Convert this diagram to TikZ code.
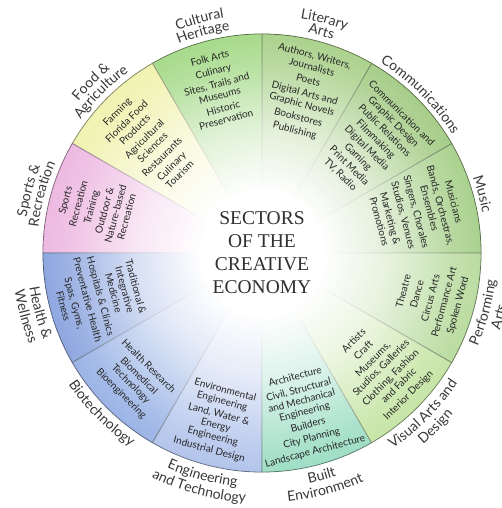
\documentclass[tikz,border=0pt]{standalone}
\usepackage{fontspec}
\newfontfamily\lato{Lato}
\newfontfamily\tms{Liberation Serif}
\usetikzlibrary{decorations.text,fadings}

\definecolor{cMusic}{HTML}{8FC36A}
\definecolor{cComm}{HTML}{8ABD62}
\definecolor{cLit}{HTML}{91C469}
\definecolor{cCult}{HTML}{8BCF66}
\definecolor{cFood}{HTML}{ECEF98}
\definecolor{cSport}{HTML}{E8A3D8}
\definecolor{cHealth}{HTML}{6A8BD6}
\definecolor{cBio}{HTML}{7B9CDE}
\definecolor{cEng}{HTML}{9BB2E6}
\definecolor{cBuilt}{HTML}{80D4B4}
\definecolor{cVis}{HTML}{B5DD8A}
\definecolor{cPerf}{HTML}{A4D182}
\definecolor{labcol}{HTML}{383838}
\definecolor{itemcol}{HTML}{262626}
\definecolor{titlecol}{HTML}{303030}

\pgfdeclareradialshading{cshade}{\pgfpointorigin}{color(0bp)=(pgftransparent!0); color(7bp)=(pgftransparent!0); color(14bp)=(pgftransparent!25); color(22bp)=(pgftransparent!65); color(32bp)=(pgftransparent!100); color(50bp)=(pgftransparent!100)}
\pgfdeclarefading{cfade}{\pgfuseshading{cshade}}

\newcommand\itemfont{\lato\fontsize{10}{11.5}\selectfont}
\newcommand\labfont{\lato\fontsize{14}{14}\selectfont\color{labcol}}
\newcommand\TopLab[3]{\path[lab={#3}] ({#1+40}:#2) arc[start angle={#1+40}, end angle={#1-40}, radius=#2];}
\newcommand\BotLab[3]{\path[lab={#3}] ({#1-40}:#2) arc[start angle={#1-40}, end angle={#1+40}, radius=#2];}

\tikzset{
  itm/.style={align=center, font=\itemfont, text=itemcol, inner sep=0pt},
  lab/.style={decorate, decoration={text along path, text align=center, text={|\labfont|#1}}},
  wedge/.style={fill=#1, draw=#1!50!black, line width=0.8pt}
}

\begin{document}
\begin{tikzpicture}
\useasboundingbox (-262pt,-255pt) rectangle (239pt,253pt);

% sectors
\foreach \a/\c in {0/cMusic,30/cComm,60/cLit,90/cCult,120/cFood,150/cSport,180/cHealth,210/cBio,240/cEng,270/cBuilt,300/cVis,330/cPerf}
  \filldraw[wedge=\c] (0,0) -- (\a:219pt) arc[start angle=\a, end angle=\a+30, radius=219pt] -- cycle;

% white centre glow
\fill[white, path fading=cfade] (0,0) circle[radius=219pt];

% centre title
\node[font=\tms\fontsize{19.5}{23}\selectfont, align=center, text=titlecol] (title) at (0pt,0.5pt) {SECTORS\\OF THE\\CREATIVE\\ECONOMY};

% sector contents
\node[itm, rotate=15] (tcult) at (105:170pt) {Folk Arts\\[2pt]Culinary\\[2pt]Sites, Trails and\\Museums\\[2pt]Historic\\Preservation};
\node[itm, rotate=-15] (tlit) at (75:165pt) {Authors, Writers,\\Journalists\\[2pt]Poets\\[2pt]Digital Arts and\\Graphic Novels\\[2pt]Bookstores\\[2pt]Publishing};
\node[itm, rotate=-45] (tcomm) at (45:154pt) {Communication and\\Graphic Design\\[1pt]Public Relations\\[1pt]Filmmaking\\[1pt]Digital Media\\[1pt]Gaming\\[1pt]Print Media\\[1pt]TV, Radio};
\node[itm, rotate=-75] (tmus) at (15:160pt) {Musicians\\[2pt]Bands, Orchestras,\\Ensembles\\[2pt]Singers, Chorales\\[2pt]Studios, Venues\\[2pt]Marketing \&\\Promotions};
\node[itm, rotate=75] (tperf) at (-15:175pt) {Theatre\\[2.5pt]Dance\\[2.5pt]Circus Arts\\[2.5pt]Performance Art\\[2.5pt]Spoken Word};
\node[itm, rotate=45] (tvis) at (-44:166pt) {Artists\\[2pt]Craft\\[2pt]Museums,\\Studios, Galleries\\[2pt]Clothing, Fashion\\and Fabric\\[2pt]Interior Design};
\node[itm, rotate=15] (tbuilt) at (-75:167pt) {Architecture\\[2pt]Civil, Structural\\and Mechanical\\Engineering\\[2pt]Builders\\[2pt]City Planning\\[2pt]Landscape Architecture};
\node[itm, rotate=-15] (teng) at (255:173pt) {Environmental\\Engineering\\[2pt]Land, Water \&\\Energy\\Engineering\\[2pt]Industrial Design};
\node[itm, rotate=-45] (tbio) at (225:180pt) {Health Research\\[2pt]Biomedical\\Technology\\[2pt]Bioengineering};
\node[itm, rotate=-75] (thealth) at (195:168pt) {Traditional \&\\Integrative\\Medicine\\[2pt]Hospitals \& Clinics\\[2pt]Preventative Health\\[2pt]Spas, Gyms,\\Fitness};
\node[itm, rotate=75] (tsport) at (165:172pt) {Sports\\[2pt]Recreation\\[2pt]Training\\[2pt]Outdoor \&\\Nature-based\\Recreation};
\node[itm, rotate=45] (tfood) at (136:158pt) {Farming\\[2pt]Florida Food\\Products\\[2pt]Agricultural\\Sciences\\[2pt]Restaurants\\[2pt]Culinary\\Tourism};

% outer labels (top half)
\TopLab{105}{238pt}{Cultural}
\TopLab{105}{225pt}{Heritage}
\TopLab{75}{238pt}{Literary}
\TopLab{75}{225pt}{Arts}
\TopLab{45}{224pt}{Communications}
\TopLab{15}{224pt}{Music}
\TopLab{135}{238pt}{Food {\&}}
\TopLab{135}{225pt}{Agriculture}
\TopLab{165}{238pt}{Sports {\&}}
\TopLab{165}{225pt}{Recreation}
% outer labels (bottom half)
\BotLab{195}{235pt}{Health {\&}}
\BotLab{195}{250pt}{Wellness}
\BotLab{225}{234pt}{Biotechnology}
\BotLab{255}{235pt}{Engineering}
\BotLab{255}{250pt}{and Technology}
\BotLab{285}{235pt}{Built}
\BotLab{285}{250pt}{Environment}
\BotLab{315}{235pt}{Visual Arts and}
\BotLab{315}{250pt}{Design}
\BotLab{345}{235pt}{Performing}
\BotLab{345}{250pt}{Arts}
\end{tikzpicture}
\end{document}
